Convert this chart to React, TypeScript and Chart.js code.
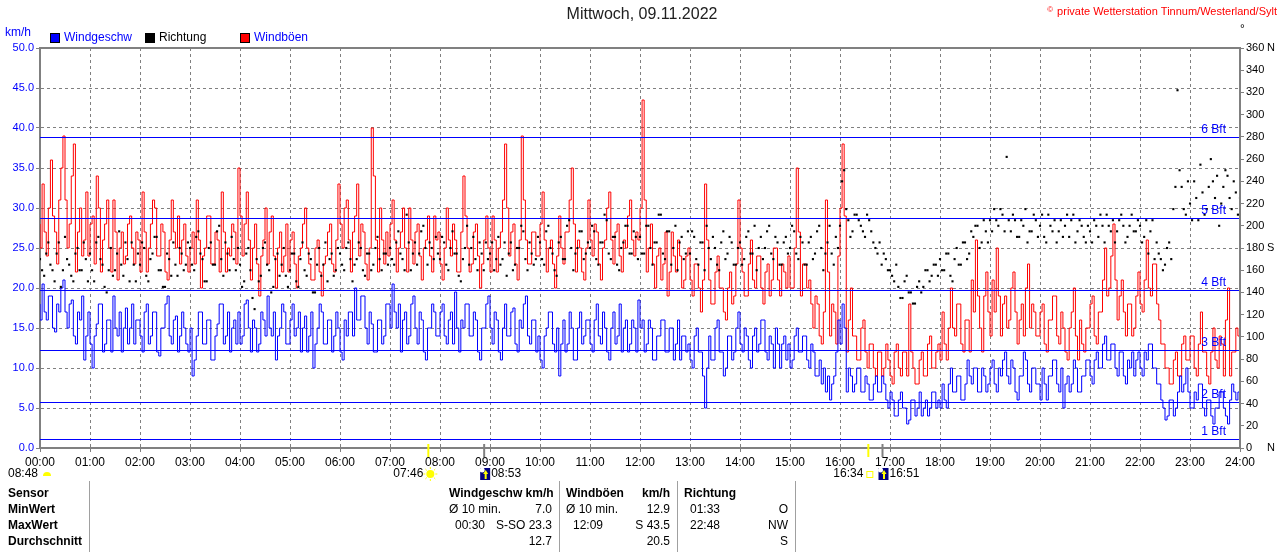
import React, { useEffect, useRef } from "react";
import { Chart, registerables } from "chart.js";

Chart.register(...registerables);

// one sample every 2.5 minutes, 00:00 .. 24:00
const stepMinutes = 2.5;

// Windgeschw km/h (24 values per hour)
const windSpeed = [
  18, 16, 20.5, 17, 16, 19, 19, 15, 14.5, 18, 17, 20, 21, 17, 15, 18, 18.5, 14, 13, 17, 16, 19, 11, 14, // 00
  17, 13, 10, 14, 15.5, 18, 18, 12, 13, 16, 16, 12, 19, 15, 14, 17, 12, 15, 17.5, 13, 15, 18, 13, 16, // 01
  16, 14, 12, 17, 18, 13, 14, 17, 17, 12, 11.5, 15, 15, 18, 19, 14, 13, 16, 16.5, 12, 14, 17, 15, 13, // 02
  12, 15, 9, 11, 14, 17, 17, 13, 13, 16, 16, 11, 11, 14, 15.5, 18, 18, 13, 14, 17, 12, 15, 16, 13, // 03
  17, 13, 14, 18, 18.5, 15, 12, 16, 15, 12, 13, 17, 16, 14, 19, 15, 14, 17, 11, 14, 15, 18, 17, 13, // 04
  13, 16, 18, 14, 15, 17, 12, 15, 16.5, 12, 14, 17, 10, 13, 15, 18, 17, 13, 13, 16, 16, 12, 14, 17, // 05
  15, 12, 11, 16, 14, 17, 17, 14, 20, 16, 16, 19, 19, 15, 13, 17, 15.5, 12, 12, 16, 16, 13, 14, 18, // 06
  18, 15, 20.5, 17, 15, 18, 12, 16, 17, 13, 14, 18, 19, 15, 13, 17, 16, 12, 11, 15, 15, 18, 17, 14, // 07
  14, 17, 18, 14, 13, 16, 17, 13, 19.5, 15, 12, 16, 15, 18, 18, 14, 14, 17, 16, 12, 11, 15, 15, 18, // 08
  19, 15, 13, 17, 16, 12, 11, 15, 18, 14, 14, 17, 17.5, 13, 12, 16, 15, 18, 19, 14, 13, 16, 16, 12, // 09
  14, 11, 10, 14, 15, 17, 17, 13, 12, 15, 9, 13, 16, 12, 13, 17, 15, 11, 11, 15, 17, 13, 14, 16, // 10
  16, 13, 12, 16, 18, 14, 13, 17, 15, 12, 11, 15, 17, 13, 14, 18, 12, 15, 16, 12, 13, 16, 15, 12, // 11
  18.5, 15, 16, 12, 13, 16, 15, 11, 11, 14, 14, 16, 16, 12, 12, 15, 15, 11, 13, 16, 11, 14, 14, 12, // 12
  13, 11, 10, 14, 15, 12, 12, 9, 5, 10, 14, 11, 11, 15, 16, 12, 12, 9, 10, 14, 14, 11, 12, 15, // 13
  17, 13, 12, 15, 14, 11, 10, 14, 15, 12, 13, 16, 16, 12, 11, 14, 13, 10, 15, 13, 10, 13, 14, 11, // 14
  13, 10, 11, 14, 15, 12, 12, 14, 14, 11, 10, 13, 12, 9, 9, 11, 8, 10, 7, 9, 6, 8, 9, 12, // 15
  16, 13, 18, 15, 7, 10, 9, 7, 8, 10, 10, 7, 7, 9, 8, 6, 6, 8, 9, 7, 7, 9, 8, 6, // 16
  5, 7, 6, 4, 4, 6, 7, 5, 5, 3, 3.5, 6, 6, 4, 5, 7, 4, 5, 6, 4, 5, 7, 7, 5, // 17
  6, 5, 8, 6, 5, 8, 10, 7, 7, 9, 9, 6, 6, 8, 11, 9, 8, 10, 10, 7, 7, 10, 9, 7, // 18
  8, 10, 11, 8, 7, 10, 9, 11, 12, 9, 8, 11, 10, 7, 6, 9, 9, 12, 11, 8, 7, 10, 10, 8, // 19
  8, 6, 10, 8, 6, 9, 9, 11, 11, 8, 7, 10, 5, 8, 9, 7, 8, 11, 10, 7, 7, 9, 9, 11, // 20
  11, 9, 8, 11, 12, 10, 10, 13, 14, 11, 11, 13, 13, 10, 9, 12, 12, 9, 8, 11, 10, 12, 9, 11, // 21
  12, 10, 9, 12, 11, 13, 13, 10, 10, 8, 8, 6, 5, 3.5, 4, 6, 6, 4, 5, 7, 9, 7, 8, 10, // 22
  7, 5, 5, 7, 6, 8, 8, 5, 4, 6, 6, 4, 3, 5, 5, 7, 7, 5, 4, 3, 6, 8, 7, 6, // 23
  7,
];

// Windböen km/h
const windGust = [
  28, 25, 33, 27, 24, 30, 36, 29, 27, 23, 31, 35, 39, 31, 25, 28, 34, 38, 22, 27, 30, 24, 26, 32, // 00
  24, 28, 29, 23, 34, 30, 22, 26, 28, 31, 25, 22, 31, 27, 21, 25, 27, 23, 24, 28, 29, 25, 23, 27, // 01
  26, 22, 32, 27, 22, 25, 28, 31, 30, 24, 24, 28, 27, 22, 21, 26, 31, 27, 25, 29, 23, 26, 28, 24, // 02
  22, 25, 27, 23, 31, 26, 20, 24, 25, 29, 29, 23, 23, 27, 26, 22, 32, 27, 22, 25, 24, 28, 27, 23, // 03
  35, 29, 24, 28, 32, 26, 21, 25, 28, 23, 19, 24, 26, 30, 23, 27, 29, 24, 20, 25, 27, 22, 24, 28, // 04
  22, 26, 27, 23, 20, 24, 25, 28, 30, 25, 23, 21, 21, 25, 26, 22, 19, 23, 24, 27, 28, 23, 22, 26, // 05
  33, 28, 25, 30, 31, 26, 22, 27, 29, 33, 24, 28, 27, 23, 21, 25, 40, 34, 26, 22, 30, 26, 23, 27, // 06
  24, 28, 31, 26, 22, 25, 27, 30, 25, 22, 30, 26, 23, 27, 28, 24, 21, 25, 26, 29, 24, 22, 29, 26, // 07
  27, 23, 21, 25, 30, 26, 24, 28, 26, 22, 22, 27, 34, 29, 25, 22, 23, 27, 28, 24, 20, 23, 26, 29, // 08
  25, 22, 29, 26, 22, 25, 27, 31, 38, 30, 24, 27, 28, 23, 21, 26, 39, 31, 26, 23, 23, 27, 27, 24, // 09
  24, 28, 32, 26, 22, 25, 26, 23, 20, 24, 29, 25, 23, 27, 27, 31, 35, 28, 22, 26, 25, 22, 21, 25, // 10
  31, 26, 24, 28, 27, 23, 21, 25, 26, 30, 32, 26, 23, 27, 28, 24, 22, 26, 25, 29, 31, 26, 24, 27, // 11
  26, 30, 43.5, 31, 22, 25, 28, 23, 20, 24, 25, 21, 23, 27, 19, 22, 27, 24, 22, 26, 24, 20, 21, 24, // 12
  25, 21, 19, 23, 23, 20, 17, 21, 33, 26, 21, 18, 18, 22, 24, 20, 20, 17, 16, 20, 22, 18, 19, 23, // 13
  31, 25, 22, 19, 19, 23, 26, 21, 20, 24, 24, 20, 18, 22, 23, 19, 21, 25, 25, 21, 19, 23, 22, 20, // 14
  24, 20, 20, 25, 35, 27, 19, 23, 23, 20, 21, 18, 15, 19, 18, 14, 13, 17, 31, 22, 14, 18, 17, 13, // 15
  24, 30, 38, 29, 12, 16, 20, 14, 14, 11, 11, 15, 16, 12, 10, 13, 13, 10, 9, 12, 12, 9, 10, 13, // 16
  11, 9, 8, 12, 13, 10, 9, 12, 12, 9, 18, 12, 10, 8, 8, 11, 12, 9, 9, 13, 14, 10, 10, 12, // 17
  13, 11, 17, 13, 11, 15, 20, 15, 14, 18, 18, 13, 12, 16, 16, 12, 21, 17, 26, 19, 15, 12, 19, 22, // 18
  17, 14, 21, 17, 25, 19, 14, 18, 19, 15, 16, 20, 22, 17, 13, 16, 18, 14, 20, 23, 15, 18, 17, 14, // 19
  14, 17, 18, 13, 12, 16, 16, 19, 19, 14, 13, 17, 15, 12, 11, 15, 17, 20, 14, 11, 16, 13, 12, 15, // 20
  15, 18, 19, 14, 13, 17, 17, 21, 25, 19, 20, 24, 28, 21, 16, 19, 21, 17, 14, 18, 18, 14, 15, 19, // 21
  22, 18, 17, 21, 26, 20, 19, 23, 23, 18, 16, 13, 13, 10, 10, 8, 8, 11, 12, 9, 9, 13, 14, 11, // 22
  11, 14, 14, 10, 9, 13, 17, 12, 12, 9, 8, 12, 15, 11, 10, 14, 13, 9, 16, 20, 9, 12, 12, 15, // 23
  14,
];

// Richtung in Grad
const windDir = [
  170, 160, 155, 175, 185, 165, 160, 150, 175, 185, 145, 160, 190, 170, 165, 155, 150, 175, 180, 160, 160, 185, 170, 150, // 00
  175, 160, 150, 185, 190, 170, 165, 145, 140, 160, 180, 155, 160, 175, 195, 165, 155, 185, 170, 150, 185, 165, 150, 175, // 01
  165, 185, 180, 155, 150, 170, 175, 190, 190, 160, 160, 145, 145, 175, 170, 155, 185, 165, 155, 180, 175, 160, 165, 185, // 02
  180, 165, 160, 190, 195, 175, 170, 150, 150, 180, 185, 165, 165, 195, 200, 170, 155, 185, 175, 160, 190, 170, 160, 180, // 03
  165, 145, 150, 175, 180, 160, 135, 125, 170, 150, 155, 180, 185, 165, 160, 140, 145, 170, 175, 155, 165, 180, 155, 145, // 04
  160, 175, 175, 150, 145, 170, 185, 160, 155, 175, 170, 140, 140, 165, 180, 155, 165, 185, 150, 170, 175, 155, 160, 180, // 05
  175, 165, 160, 180, 185, 170, 150, 165, 170, 185, 180, 160, 155, 175, 175, 160, 165, 180, 190, 170, 160, 175, 175, 165, // 06
  180, 170, 165, 185, 195, 175, 170, 160, 210, 185, 160, 175, 185, 165, 175, 195, 200, 180, 165, 185, 180, 170, 190, 175, // 07
  170, 190, 185, 165, 160, 180, 195, 175, 175, 155, 150, 170, 180, 200, 165, 180, 190, 170, 160, 185, 175, 160, 185, 170, // 08
  175, 185, 160, 170, 190, 165, 170, 185, 155, 175, 185, 160, 165, 180, 180, 200, 195, 170, 160, 185, 175, 165, 170, 190, // 09
  185, 170, 165, 195, 200, 180, 175, 160, 155, 185, 190, 170, 170, 200, 205, 180, 160, 175, 180, 195, 195, 170, 175, 185, // 10
  180, 200, 195, 170, 165, 185, 185, 210, 205, 175, 170, 190, 190, 165, 160, 180, 185, 200, 200, 175, 175, 195, 190, 170, // 11
  190, 175, 175, 200, 200, 180, 165, 185, 185, 210, 210, 175, 170, 195, 195, 165, 180, 200, 160, 185, 190, 170, 175, 195, // 12
  175, 195, 190, 170, 165, 185, 185, 160, 200, 180, 170, 190, 180, 165, 160, 185, 195, 170, 175, 190, 185, 165, 165, 180, // 13
  185, 165, 170, 190, 195, 175, 175, 200, 160, 180, 190, 170, 180, 195, 200, 175, 170, 190, 185, 165, 165, 185, 190, 175, // 14
  180, 200, 195, 175, 170, 190, 185, 165, 165, 185, 190, 170, 175, 195, 200, 180, 160, 175, 185, 200, 175, 165, 190, 180, // 15
  200, 240, 250, 215, 205, 190, 195, 210, 210, 205, 200, 195, 190, 210, 205, 195, 185, 180, 175, 185, 165, 175, 170, 160, // 16
  160, 155, 150, 165, 145, 135, 135, 150, 155, 140, 140, 130, 130, 145, 150, 140, 145, 160, 160, 150, 155, 165, 165, 155, // 17
  170, 160, 160, 175, 175, 155, 150, 170, 180, 165, 165, 185, 185, 170, 175, 195, 190, 200, 200, 180, 185, 205, 195, 185, // 18
  205, 195, 215, 205, 200, 215, 210, 195, 262, 205, 195, 210, 205, 190, 190, 205, 200, 215, 185, 195, 195, 210, 205, 190, // 19
  200, 210, 190, 185, 210, 200, 195, 205, 185, 195, 205, 190, 200, 210, 190, 205, 210, 185, 195, 205, 200, 190, 185, 200, // 20
  195, 185, 205, 200, 190, 210, 200, 185, 210, 200, 195, 205, 185, 195, 205, 210, 200, 185, 190, 200, 210, 195, 195, 205, // 21
  200, 185, 190, 205, 175, 195, 205, 170, 185, 175, 170, 160, 165, 180, 185, 170, 215, 235, 322, 250, 235, 215, 210, 240, // 22
  220, 205, 240, 225, 205, 255, 230, 210, 215, 235, 260, 240, 225, 245, 200, 220, 235, 250, 245, 225, 215, 240, 230, 210, // 23
  225,
];

// Beaufort-Grenzen in km/h
const beaufortLimits = [1.08, 5.76, 12.24, 19.8, 28.8, 38.88];
const beaufortLabels = ["1 Bft", "2 Bft", "3 Bft", "4 Bft", "5 Bft", "6 Bft"];

const sunTimes = ["07:46", "16:34"];
const moonTimes = ["08:53", "16:51"];
const prevMoonTime = "08:48";

const tableRows = ["Sensor", "MinWert", "MaxWert", "Durchschnitt"];
const speedCol = ["Ø 10 min.", "7.0", "00:30", "S-SO 23.3", "12.7"];
const gustCol = ["Ø 10 min.", "12.9", "12:09", "S 43.5", "20.5"];
const dirCol = ["01:33", "O", "22:48", "NW", "S"];

const FONT = "'Liberation Sans', Arial, sans-serif";

const toMinutes = (t: string) => {
  const [h, m] = t.split(":").map(Number);
  return h * 60 + m;
};

const pts = (arr: number[]) => arr.map((v, i) => ({ x: i * stepMinutes, y: v }));

const drawMoon = (ctx: CanvasRenderingContext2D, x: number, y: number) => {
  ctx.fillStyle = "#000080";
  ctx.fillRect(x, y - 6, 10, 12);
  ctx.fillStyle = "#ffffff";
  ctx.beginPath();
  ctx.arc(x + 2, y - 4, 2.5, 0, Math.PI * 2);
  ctx.fill();
  ctx.fillStyle = "#ffff00";
  ctx.beginPath();
  ctx.moveTo(x + 3, y);
  ctx.lineTo(x + 8, y);
  ctx.lineTo(x + 5.5, y - 4);
  ctx.closePath();
  ctx.fill();
  ctx.fillRect(x + 4.5, y, 2, 5);
};

const decorations = {
  id: "decorations",
  afterDatasetsDraw(chart: any) {
    const { ctx, chartArea: a, scales } = chart;
    ctx.save();
    ctx.font = `12px ${FONT}`;
    ctx.textAlign = "right";
    ctx.textBaseline = "bottom";
    beaufortLimits.forEach((v, i) => {
      const py = Math.round(scales.y.getPixelForValue(v)) + 0.5;
      ctx.strokeStyle = "#0000ff";
      ctx.lineWidth = 1;
      ctx.beginPath();
      ctx.moveTo(a.left, py);
      ctx.lineTo(a.right, py);
      ctx.stroke();
      ctx.fillStyle = "#0000ff";
      ctx.fillText(beaufortLabels[i], a.right - 14, py - 2);
    });
    ctx.restore();
  },
  afterDraw(chart: any) {
    const { ctx, chartArea: a, scales } = chart;
    ctx.save();

    // frame top / right
    ctx.strokeStyle = "#808080";
    ctx.lineWidth = 2;
    ctx.beginPath();
    ctx.moveTo(a.left, a.top);
    ctx.lineTo(a.right, a.top);
    ctx.lineTo(a.right, a.bottom);
    ctx.stroke();

    // title, copyright
    ctx.textBaseline = "middle";
    ctx.font = `16px ${FONT}`;
    ctx.fillStyle = "#202020";
    ctx.textAlign = "center";
    ctx.fillText("Mittwoch, 09.11.2022", 642, 15);
    const copy = "private Wetterstation Tinnum/Westerland/Sylt";
    ctx.font = `11px ${FONT}`;
    ctx.fillStyle = "#ff0000";
    ctx.textAlign = "right";
    ctx.fillText(copy, 1277, 12);
    const cw = ctx.measureText(copy).width;
    ctx.font = `8px ${FONT}`;
    ctx.fillText("©", 1277 - cw - 4, 10);

    // axis units
    ctx.font = `12px ${FONT}`;
    ctx.textAlign = "left";
    ctx.fillStyle = "#0000ff";
    ctx.fillText("km/h", 5, 33);
    ctx.fillStyle = "#000000";
    ctx.fillText("°", 1240, 30);

    // legend
    const legend = [
      { x: 50, fill: "#0000ff", text: "Windgeschw", color: "#0000ff" },
      { x: 145, fill: "#000000", text: "Richtung", color: "#000000" },
      { x: 240, fill: "#ff0000", text: "Windböen", color: "#0000ff" },
    ];
    legend.forEach((l) => {
      ctx.fillStyle = l.fill;
      ctx.fillRect(l.x, 33, 10, 10);
      ctx.strokeStyle = "#000000";
      ctx.lineWidth = 1;
      ctx.strokeRect(l.x + 0.5, 33.5, 9, 9);
      ctx.fillStyle = l.color;
      ctx.fillText(l.text, l.x + 14, 38);
    });

    // N / S on right axis
    ctx.font = `11px ${FONT}`;
    ctx.fillStyle = "#000000";
    [
      [360, "N"],
      [180, "S"],
      [0, "N"],
    ].forEach(([v, s]) => {
      ctx.fillText(s as string, 1267, scales.y2.getPixelForValue(v as number));
    });

    // sun / moon markers on time axis
    const ty = 474;
    sunTimes.forEach((t) => {
      const px = scales.x.getPixelForValue(toMinutes(t));
      ctx.strokeStyle = "#ffff00";
      ctx.lineWidth = 2;
      ctx.beginPath();
      ctx.moveTo(px, 444);
      ctx.lineTo(px, 457);
      ctx.stroke();
    });
    moonTimes.forEach((t) => {
      const px = scales.x.getPixelForValue(toMinutes(t));
      ctx.strokeStyle = "#808080";
      ctx.lineWidth = 2;
      ctx.beginPath();
      ctx.moveTo(px, 444);
      ctx.lineTo(px, 457);
      ctx.stroke();
    });

    ctx.font = `12px ${FONT}`;
    ctx.fillStyle = "#000000";
    ctx.textAlign = "left";
    ctx.fillText(prevMoonTime, 8, ty);
    ctx.fillStyle = "#ffff00";
    ctx.beginPath();
    ctx.arc(47, ty + 2, 4, Math.PI, 0);
    ctx.fill();

    const rise = scales.x.getPixelForValue(toMinutes(sunTimes[0]));
    ctx.fillStyle = "#000000";
    ctx.textAlign = "right";
    ctx.fillText(sunTimes[0], rise - 5, ty);
    ctx.fillStyle = "#ffff00";
    ctx.beginPath();
    ctx.arc(rise + 2, ty, 4, 0, Math.PI * 2);
    ctx.fill();
    ctx.strokeStyle = "#ffff00";
    ctx.lineWidth = 1;
    for (let k = 0; k < 8; k++) {
      const ang = (k * Math.PI) / 4;
      ctx.beginPath();
      ctx.moveTo(rise + 2 + Math.cos(ang) * 5, ty + Math.sin(ang) * 5);
      ctx.lineTo(rise + 2 + Math.cos(ang) * 7, ty + Math.sin(ang) * 7);
      ctx.stroke();
    }

    const set = scales.x.getPixelForValue(toMinutes(sunTimes[1]));
    ctx.fillStyle = "#000000";
    ctx.fillText(sunTimes[1], set - 5, ty);
    ctx.strokeStyle = "#ffff00";
    ctx.strokeRect(set - 1.5, ty - 2.5, 6, 6);

    moonTimes.forEach((t) => {
      const px = scales.x.getPixelForValue(toMinutes(t));
      drawMoon(ctx, px - 4, ty);
      ctx.fillStyle = "#000000";
      ctx.textAlign = "left";
      ctx.fillText(t, px + 7, ty);
    });

    // summary table
    ctx.strokeStyle = "#a0a0a0";
    ctx.lineWidth = 1;
    [89, 559, 677, 795].forEach((x) => {
      ctx.beginPath();
      ctx.moveTo(x + 0.5, 481);
      ctx.lineTo(x + 0.5, 552);
      ctx.stroke();
    });
    const rowY = [494, 510, 526, 542];
    ctx.fillStyle = "#000000";
    ctx.font = `bold 12px ${FONT}`;
    ctx.textAlign = "left";
    tableRows.forEach((r, i) => ctx.fillText(r, 8, rowY[i]));
    ctx.fillText("Windgeschw km/h", 449, rowY[0]);
    ctx.fillText("Windböen", 566, rowY[0]);
    ctx.fillText("Richtung", 684, rowY[0]);
    ctx.textAlign = "right";
    ctx.fillText("km/h", 670, rowY[0]);

    ctx.font = `12px ${FONT}`;
    const col = (vals: string[], lx: number, lx2: number, rx: number) => {
      ctx.textAlign = "left";
      ctx.fillText(vals[0], lx, rowY[1]);
      ctx.fillText(vals[2], lx2, rowY[2]);
      ctx.textAlign = "right";
      ctx.fillText(vals[1], rx, rowY[1]);
      ctx.fillText(vals[3], rx, rowY[2]);
      ctx.fillText(vals[4], rx, rowY[3]);
    };
    col(speedCol, 449, 455, 552);
    col(gustCol, 566, 573, 670);
    col(dirCol, 690, 690, 788);

    ctx.restore();
  },
};

const WindChart: React.FC = () => {
  const chartRef = useRef<HTMLCanvasElement | null>(null);
  const chartInstance = useRef<Chart | null>(null);

  useEffect(() => {
    document.body.style.margin = "0";
    if (!chartRef.current) return;
    const ctx = chartRef.current.getContext("2d");
    if (!ctx) return;
    if (chartInstance.current) chartInstance.current.destroy();

    const tickFont = { family: FONT, size: 12 };
    const axisFont = { family: FONT, size: 11 };
    const gridBase = {
      color: "#808080",
      tickColor: "#808080",
      tickLength: 4,
      tickBorderDash: [],
    };

    chartInstance.current = new Chart(ctx, {
      type: "line",
      data: {
        datasets: [
          {
            type: "scatter",
            label: "Richtung",
            data: pts(windDir),
            yAxisID: "y2",
            showLine: false,
            pointStyle: "rect",
            pointRadius: 1.5,
            pointBorderWidth: 0,
            pointBorderColor: "#000000",
            pointBackgroundColor: "#000000",
            backgroundColor: "#000000",
            borderColor: "#000000",
            order: 0,
          },
          {
            label: "Windgeschw",
            data: pts(windSpeed),
            yAxisID: "y",
            borderColor: "#0000ff",
            backgroundColor: "#0000ff",
            borderWidth: 1,
            pointRadius: 0,
            fill: false,
            stepped: "after",
            order: 1,
          },
          {
            label: "Windböen",
            data: pts(windGust),
            yAxisID: "y",
            borderColor: "#ff0000",
            backgroundColor: "#ff0000",
            borderWidth: 1,
            pointRadius: 0,
            fill: false,
            stepped: "after",
            order: 2,
          },
        ],
      },
      options: {
        responsive: false,
        animation: false,
        events: [],
        layout: { padding: { top: 48, bottom: 74, left: 0, right: 0 } },
        plugins: { legend: { display: false }, tooltip: { enabled: false } },
        scales: {
          x: {
            type: "linear",
            min: 0,
            max: 1440,
            afterFit: (s: any) => {
              s.height = 30;
            },
            ticks: {
              stepSize: 60,
              autoSkip: false,
              maxTicksLimit: 100,
              maxRotation: 0,
              padding: 3,
              color: "#000000",
              font: tickFont,
              callback: (v: any) => `${String(Math.round(v / 60)).padStart(2, "0")}:00`,
            },
            grid: gridBase,
            border: { display: true, color: "#808080", width: 2, dash: [3, 3] },
          },
          y: {
            position: "left",
            min: 0,
            max: 50,
            afterFit: (s: any) => {
              s.width = 40;
            },
            ticks: {
              stepSize: 5,
              maxTicksLimit: 100,
              padding: 2,
              color: "#0000ff",
              font: axisFont,
              callback: (v: any) => Number(v).toFixed(1),
            },
            grid: gridBase,
            border: { display: true, color: "#808080", width: 2, dash: [3, 3] },
          },
          y2: {
            position: "right",
            min: 0,
            max: 360,
            afterFit: (s: any) => {
              s.width = 40;
            },
            ticks: {
              stepSize: 20,
              maxTicksLimit: 100,
              autoSkip: false,
              padding: 2,
              color: "#000000",
              font: axisFont,
            },
            grid: { ...gridBase, drawOnChartArea: false },
            border: { display: true, color: "#808080", width: 2 },
          },
        },
      },
      plugins: [decorations],
    });

    return () => {
      if (chartInstance.current) {
        chartInstance.current.destroy();
        chartInstance.current = null;
      }
    };
  }, []);

  return (
    <div style={{ width: 1280, height: 552, background: "#ffffff" }}>
      <canvas ref={chartRef} width={1280} height={552}></canvas>
    </div>
  );
};

export default function App() {
  return <WindChart />;
}
